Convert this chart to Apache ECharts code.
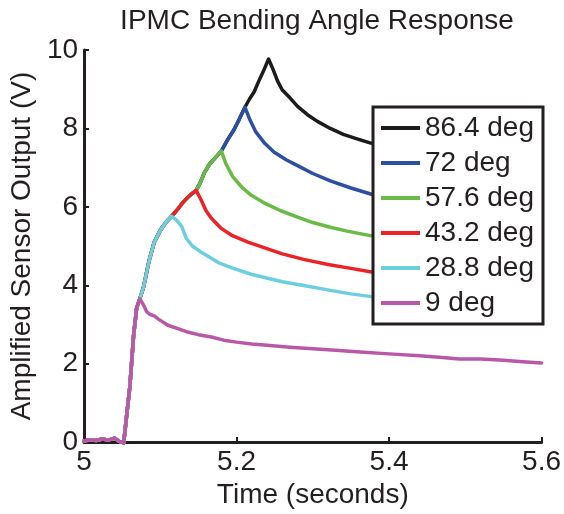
<!DOCTYPE html>
<html>
<head>
<meta charset="utf-8">
<script src="https://cdn.jsdelivr.net/npm/echarts@6/dist/echarts.min.js"></script>
<style>
  html, body { margin: 0; padding: 0; background: #fff; }
  #chart { width: 564px; height: 514px; }
</style>
</head>
<body>
<div id="chart"></div>
<script>
// shared rising edge, all six traces sit on it until their own peak
const riseTime = [5.000, 5.008, 5.016, 5.024, 5.032, 5.040, 5.046, 5.052, 5.056, 5.060, 5.065, 5.069, 5.073,
  5.078, 5.085, 5.092, 5.100, 5.108, 5.115, 5.122, 5.130, 5.138, 5.147, 5.152, 5.158, 5.165, 5.172, 5.180,
  5.188, 5.197, 5.204, 5.211, 5.217, 5.223, 5.229, 5.235, 5.242];
const riseValue = [0.03, 0.06, 0.04, 0.08, 0.05, 0.10, 0.02, -0.02, 0.70, 1.40, 2.72, 3.42, 3.65,
  3.95, 4.60, 5.10, 5.40, 5.62, 5.76, 5.92, 6.12, 6.28, 6.42, 6.60, 6.88, 7.10, 7.25, 7.42,
  7.70, 7.98, 8.25, 8.54, 8.75, 8.93, 9.20, 9.45, 9.77];

const seriesNames = ['86.4 deg', '72 deg', '57.6 deg', '43.2 deg', '28.8 deg', '9 deg'];
const seriesColors = ['#1c1a1a', '#2c4fa3', '#69bb45', '#ec2227', '#6ccfe0', '#b957a8'];
const peakTimes = [5.242, 5.211, 5.180, 5.147, 5.115, 5.073];

// decay after each peak: [time, volts]
const tail864 = [[5.248, 9.5], [5.254, 9.2], [5.260, 8.98], [5.270, 8.78], [5.280, 8.56], [5.293, 8.35],
  [5.306, 8.18], [5.323, 8.0], [5.340, 7.85], [5.357, 7.74], [5.375, 7.63], [5.420, 7.4], [5.470, 7.18],
  [5.520, 7.0], [5.560, 6.88], [5.600, 6.78]];
const tail72 = [[5.218, 8.2], [5.225, 7.92], [5.237, 7.62], [5.249, 7.4], [5.265, 7.2], [5.280, 7.05],
  [5.300, 6.85], [5.323, 6.66], [5.350, 6.48], [5.377, 6.32], [5.420, 6.12], [5.470, 5.94], [5.520, 5.8],
  [5.560, 5.7], [5.600, 5.62]];
const tail576 = [[5.186, 7.1], [5.195, 6.77], [5.207, 6.5], [5.219, 6.3], [5.238, 6.08], [5.258, 5.9],
  [5.280, 5.74], [5.300, 5.6], [5.323, 5.48], [5.345, 5.38], [5.377, 5.26], [5.420, 5.12], [5.470, 4.98],
  [5.520, 4.87], [5.560, 4.79], [5.600, 4.72]];
const tail432 = [[5.153, 6.2], [5.160, 5.9], [5.167, 5.71], [5.180, 5.45], [5.193, 5.28], [5.215, 5.1],
  [5.236, 4.96], [5.260, 4.8], [5.288, 4.66], [5.320, 4.53], [5.350, 4.43], [5.377, 4.34], [5.420, 4.24],
  [5.470, 4.13], [5.520, 4.04], [5.560, 3.98], [5.600, 3.92]];
const tail288 = [[5.122, 5.65], [5.128, 5.5], [5.134, 5.2], [5.142, 5.0], [5.154, 4.84], [5.176, 4.58],
  [5.193, 4.45], [5.219, 4.28], [5.260, 4.09], [5.290, 3.99], [5.323, 3.87], [5.350, 3.78], [5.377, 3.71],
  [5.420, 3.62], [5.470, 3.52], [5.520, 3.44], [5.560, 3.38], [5.600, 3.32]];
const tail9 = [[5.078, 3.5], [5.082, 3.33], [5.086, 3.26], [5.092, 3.22], [5.098, 3.13], [5.110, 2.98],
  [5.125, 2.88], [5.137, 2.8], [5.150, 2.74], [5.167, 2.68], [5.183, 2.6], [5.200, 2.55], [5.220, 2.5],
  [5.240, 2.47], [5.270, 2.42], [5.300, 2.38], [5.330, 2.34], [5.362, 2.3], [5.400, 2.25], [5.440, 2.2],
  [5.470, 2.16], [5.492, 2.12], [5.520, 2.12], [5.550, 2.09], [5.575, 2.05], [5.600, 2.02]];
const tails = [tail864, tail72, tail576, tail432, tail288, tail9];

const xTicks = { min: 5, max: 5.6, interval: 0.2 };
const yTicks = { min: 0, max: 10, interval: 2 };

const ink = '#231f20';
const font = '"Liberation Sans", Arial, Helvetica, sans-serif';

const chart = echarts.init(document.getElementById('chart'));

const series = seriesNames.map((name, i) => {
  const rise = riseTime
    .map((t, k) => [t, riseValue[k]])
    .filter(p => p[0] <= peakTimes[i] + 1e-9);
  return {
    name: name,
    type: 'line',
    data: rise.concat(tails[i]),
    symbol: 'none',
    color: seriesColors[i],
    lineStyle: { width: 3.5, color: seriesColors[i], join: 'round', cap: 'round' },
    clip: false,
    z: 2
  };
});

const option = {
  animation: false,
  backgroundColor: '#fff',
  textStyle: { fontFamily: font, color: ink },
  title: {
    text: 'IPMC Bending Angle Response',
    left: 312,
    textAlign: 'center',
    top: 2,
    textStyle: { fontFamily: font, fontSize: 28, fontWeight: 'normal', color: ink }
  },
  grid: { left: 82, right: 21, top: 50, bottom: 68 },
  legend: {
    orient: 'vertical',
    left: 373,
    top: 107,
    padding: [7, 9, 7, 8],
    itemGap: 7,
    itemWidth: 39,
    itemHeight: 4,
    icon: 'rect',
    backgroundColor: '#fff',
    borderColor: ink,
    borderWidth: 3,
    textStyle: { fontFamily: font, fontSize: 28, color: ink, lineHeight: 28 },
    data: seriesNames,
    z: 10
  },
  xAxis: {
    type: 'value',
    min: xTicks.min,
    max: xTicks.max,
    interval: xTicks.interval,
    name: 'Time (seconds)',
    nameLocation: 'middle',
    nameGap: 37,
    nameTextStyle: { fontFamily: font, fontSize: 28, color: ink },
    axisLine: { show: true, onZero: false, lineStyle: { color: ink, width: 3 } },
    axisTick: { show: true, inside: true, length: 5, lineStyle: { color: ink, width: 2 } },
    axisLabel: {
      fontFamily: font, fontSize: 28, color: ink, margin: 6,
      formatter: v => String(Math.round(v * 10) / 10)
    },
    splitLine: { show: false }
  },
  yAxis: {
    type: 'value',
    min: yTicks.min,
    max: yTicks.max,
    interval: yTicks.interval,
    name: 'Amplified Sensor Output (V)',
    nameLocation: 'middle',
    nameGap: 44,
    nameTextStyle: { fontFamily: font, fontSize: 28, color: ink },
    axisLine: { show: true, lineStyle: { color: ink, width: 3 } },
    axisTick: { show: true, inside: true, length: 5, lineStyle: { color: ink, width: 2 } },
    axisLabel: { fontFamily: font, fontSize: 28, color: ink, margin: 6 },
    splitLine: { show: false }
  },
  series: series
};

chart.setOption(option);
</script>
</body>
</html>
